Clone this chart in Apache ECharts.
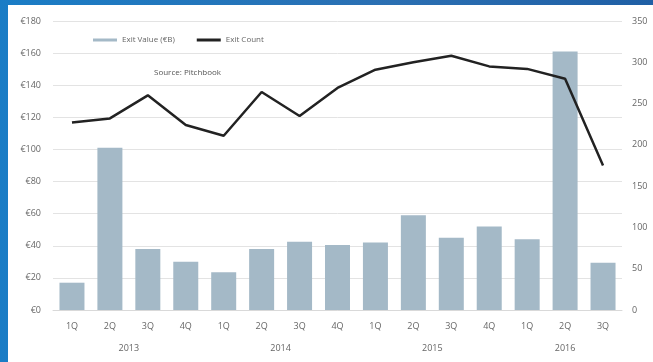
<!DOCTYPE html>
<html>
<head>
<meta charset="utf-8">
<script src="https://cdn.jsdelivr.net/npm/echarts@6/dist/echarts.min.js"></script>
<style>
  html, body { margin: 0; padding: 0; }
  body {
    width: 653px; height: 362px; overflow: hidden; position: relative;
    background: linear-gradient(90deg, #1a7dc6 0%, #2b6fb2 60%, #1f5fa5 100%);
  }
  #chart { position: absolute; left: 8px; top: 5px; width: 645px; height: 357px; background: #fff; }
</style>
</head>
<body>
<div id="chart"></div>
<script>
// quarters 1Q 2013 .. 3Q 2016
var quarters = ['1Q', '2Q', '3Q', '4Q', '1Q', '2Q', '3Q', '4Q', '1Q', '2Q', '3Q', '4Q', '1Q', '2Q', '3Q'];
var years = ['2013', '2014', '2015', '2016'];
var quartersPerYear = [4, 4, 4, 3];
var exitValue = [17, 101, 38, 30, 23.5, 38, 42.5, 40.5, 42, 59, 45, 52, 44, 161, 29.5];
var exitCount = [227, 232, 260, 224, 211, 264, 235, 269, 291, 300, 308, 295, 292, 280, 175];

// year label positions = middle of each year's quarters
var yearCenters = [];
var start = 0;
quartersPerYear.forEach(function (n) {
  yearCenters.push(start + n / 2);
  start += n;
});

var chart = echarts.init(document.getElementById('chart'));
var txt = { color: '#666', fontSize: 9, fontFamily: 'Open Sans' };

chart.setOption({
  animation: false,
  title: {
    text: 'Source: Pitchbook',
    left: 141, top: 59,
    textStyle: { color: '#555', fontSize: 8, fontWeight: 'normal', fontFamily: 'Open Sans' }
  },
  legend: {
    left: 80, top: 26,
    itemWidth: 24, itemHeight: 3, itemGap: 22,
    textStyle: { color: '#666', fontSize: 8, fontFamily: 'Open Sans' },
    data: [
      { name: 'Exit Value (€B)', icon: 'rect' },
      { name: 'Exit Count', icon: 'rect' }
    ]
  },
  grid: { left: 45, right: 31, top: 16, bottom: 52 },
  xAxis: [{
    type: 'category',
    data: quarters,
    axisLine: { lineStyle: { color: '#d9d9d9' } },
    axisTick: { show: false },
    axisLabel: Object.assign({ margin: 12 }, txt)
  }, {
    type: 'value',
    position: 'bottom',
    min: 0, max: quarters.length,
    axisLine: { show: false },
    axisTick: { show: false },
    splitLine: { show: false },
    axisLabel: Object.assign({
      margin: 34,
      customValues: yearCenters,
      formatter: function (v) { return years[yearCenters.indexOf(v)]; }
    }, txt)
  }],
  yAxis: [{
    type: 'value',
    min: 0, max: 180, interval: 20,
    axisLine: { show: false },
    axisTick: { show: false },
    splitLine: { lineStyle: { color: '#e3e3e3' } },
    axisLabel: Object.assign({ margin: 12, formatter: '€{value}' }, txt)
  }, {
    type: 'value',
    min: 0, max: 350, interval: 50,
    axisLine: { show: false },
    axisTick: { show: false },
    splitLine: { show: false },
    axisLabel: Object.assign({ margin: 10 }, txt)
  }],
  series: [{
    name: 'Exit Value (€B)',
    type: 'bar',
    data: exitValue,
    barWidth: 25,
    itemStyle: { color: '#a4b9c7' }
  }, {
    name: 'Exit Count',
    type: 'line',
    yAxisIndex: 1,
    data: exitCount,
    symbol: 'none',
    lineStyle: { color: '#222', width: 2.5 },
    itemStyle: { color: '#222' }
  }]
});
</script>
</body>
</html>
